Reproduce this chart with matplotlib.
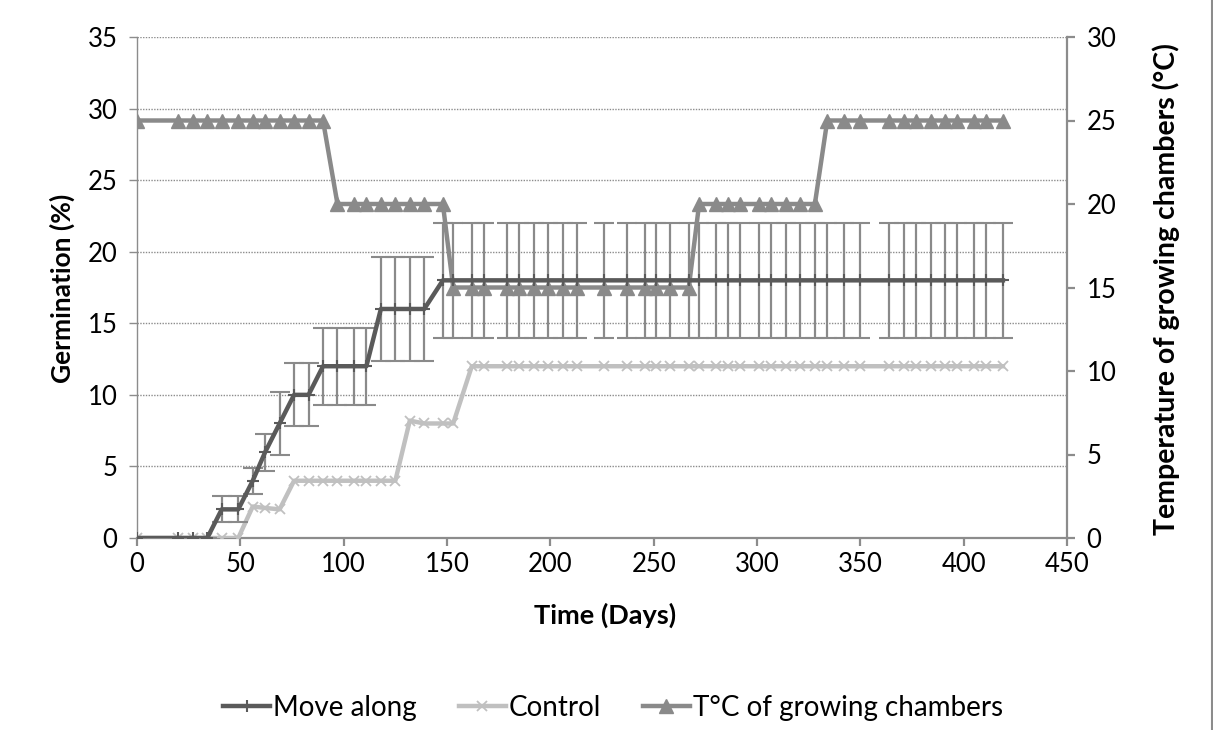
import numpy as np
import matplotlib
matplotlib.use("Agg")
import matplotlib.pyplot as plt
from matplotlib.lines import Line2D

# sampling days (shared by all series)
days = [0, 20, 27, 34, 41, 49, 56, 62, 69, 76,
        83, 90, 97, 105, 111, 118, 125, 132, 139, 148,
        153, 162, 168, 179, 185, 192, 199, 206, 213, 226,
        237, 246, 251, 258, 267, 272, 280, 286, 292, 301,
        307, 314, 321, 328, 334, 342, 350, 364, 371, 377,
        384, 391, 397, 405, 411, 419]

move_along = [0, 0, 0, 0, 2, 2, 4, 6, 8, 10,
              10, 12, 12, 12, 12, 16, 16, 16, 16, 18] + [18] * 36
move_err = [0, 0, 0, 0, 0.9, 0.9, 0.9, 1.3, 2.2, 2.2,
            2.2, 2.7, 2.7, 2.7, 2.7, 3.6, 3.6, 3.6, 3.6, 4] + [4] * 36
control = [0, 0, 0, 0, 0, 0, 2.2, 2.1, 2, 4,
           4, 4, 4, 4, 4, 4, 4, 8.2, 8, 8,
           8] + [12] * 35
temp = [25] * 12 + [20] * 8 + [15] * 15 + [20] * 9 + [25] * 12

c_move = "#5a5a5a"
c_ctrl = "#c0c0c0"
c_temp = "#8a8a8a"
c_axis = "#8c8c8c"

plt.rcParams['font.family'] = ['Lato', 'DejaVu Sans']

fig = plt.figure(figsize=(12.13, 7.30), dpi=100)
ax = fig.add_axes([137/1213, 1-538/730, 930/1213, 501/730])
ax2 = ax.twinx()

# temperature on secondary axis, drawn behind
ax2.plot(days, temp, color=c_temp, lw=3.2, marker='^', ms=10, mec=c_temp, mfc=c_temp,
         zorder=2)
ax2.set_ylim(0, 30)
ax2.set_yticks(np.arange(0, 31, 5))

ax.set_zorder(ax2.get_zorder() + 1)
ax.patch.set_visible(False)

ax.plot(days, control, color=c_ctrl, lw=3.2, marker='x', ms=7, mew=1.3, zorder=3)
ax.errorbar(days, move_along, yerr=move_err, color=c_move, lw=3.2, marker='+', ms=9, mew=1.5,
            ecolor=c_temp, elinewidth=1.6, capsize=7, capthick=1.6, zorder=4)

ax.set_xlim(0, 450)
ax.set_ylim(0, 35)
ax.set_xticks(np.arange(0, 451, 50))
ax.set_yticks(np.arange(0, 36, 5))
ax.grid(axis='y', color=c_axis, ls=(0, (1, 1)), lw=1.0)
ax.set_axisbelow(True)

ax.spines['top'].set_visible(False)
ax2.spines['top'].set_visible(False)
ax.spines['right'].set_visible(False)
ax2.spines['left'].set_visible(False)
ax2.spines['bottom'].set_visible(False)
ax.spines['left'].set_color(c_axis)
ax.spines['left'].set_linestyle((0, (1, 1)))
ax.spines['left'].set_linewidth(1.0)
ax.spines['bottom'].set_color(c_axis)
ax.spines['bottom'].set_linewidth(1.6)
ax2.spines['right'].set_color(c_axis)
ax2.spines['right'].set_linewidth(1.6)

ax.tick_params(axis='x', direction='out', length=6, width=1.6, color=c_axis,
               labelsize=18.5, pad=4)
ax.tick_params(axis='y', direction='out', length=6, width=1.0, color=c_axis,
               labelsize=18.5, pad=8)
ax2.tick_params(axis='y', direction='out', length=6, width=1.6, color=c_axis,
                labelsize=18.5, pad=8)

fig.text(605/1213, 1-615/730, "Time (Days)", fontsize=19.5, fontweight='bold',
         ha='center', va='center')
fig.text(62/1213, 1-288/730, "Germination (%)", fontsize=19, fontweight='bold',
         ha='center', va='center', rotation=90)
fig.text(1166/1213, 1-289/730, "Temperature of growing chambers (°C)", fontsize=20.5,
         fontweight='bold', ha='center', va='center', rotation=90)

handles = [
    Line2D([], [], color=c_move, lw=3.2, marker='+', ms=9, mew=1.5),
    Line2D([], [], color=c_ctrl, lw=3.2, marker='x', ms=7, mew=1.3),
    Line2D([], [], color=c_temp, lw=3.2, marker='^', ms=10),
]
fig.legend(handles, ["Move along", "Control", "T°C of growing chambers"],
           loc='center', bbox_to_anchor=(613/1213, 1-708/730), ncol=3, frameon=False,
           fontsize=20, handlelength=1.7, handletextpad=0.1, columnspacing=1.5)

fig.add_artist(Line2D([1212/1213, 1212/1213], [0, 1], transform=fig.transFigure,
                      color="#8c8c8c", lw=1.5))

fig.savefig("out.png", dpi=100)
